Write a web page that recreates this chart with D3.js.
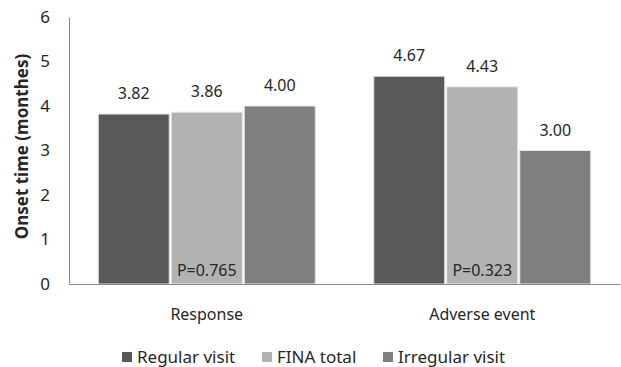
<!DOCTYPE html>
<html>
<head>
<meta charset="utf-8">
<script src="https://cdn.jsdelivr.net/npm/d3@7"></script>
<style>
  body { margin: 0; background: #fff; }
  text { font-family: "Noto Sans", "Open Sans", sans-serif; fill: #262626; }
</style>
</head>
<body>
<script>
// chart data
var categories = ["Response", "Adverse event"];
var seriesNames = ["Regular visit", "FINA total", "Irregular visit"];
var responseValues = [3.82, 3.86, 4.00];
var adverseValues = [4.67, 4.43, 3.00];
var pLabels = ["P=0.765", "P=0.323"];
var yTicks = [0, 1, 2, 3, 4, 5, 6];
var colors = ["#595959", "#b2b2b2", "#7f7f7f"];

var rows = [responseValues, adverseValues];

var W = 621, H = 367;
var margin = {top: 17, right: 1, bottom: 83, left: 69};
var w = W - margin.left - margin.right,
    h = H - margin.top - margin.bottom;

var svg = d3.select("body").append("svg")
    .attr("width", W)
    .attr("height", H);

var g = svg.append("g")
    .attr("transform", "translate(" + margin.left + "," + margin.top + ")");

var x0 = d3.scaleBand()
    .domain(categories)
    .range([0, w])
    .paddingInner(0.205)
    .paddingOuter(0.1025);

var x1 = d3.scaleBand()
    .domain(seriesNames)
    .range([0, x0.bandwidth()]);

var y = d3.scaleLinear()
    .domain([0, 6])
    .range([h, 0]);

// y axis (line + labels, no ticks)
var yAxis = d3.axisLeft(y).tickValues(yTicks).tickFormat(d3.format("d")).tickSize(0).tickPadding(19);
var yg = g.append("g").call(yAxis);
yg.select(".domain").attr("stroke", "#8c8c8c");
yg.selectAll("text")
  .style("font-size", "17px")
  .attr("fill", "#404040");

// bars
var groups = g.selectAll(".grp")
  .data(rows)
  .enter().append("g")
    .attr("transform", function(d, i) { return "translate(" + x0(categories[i]) + ",0)"; });

groups.selectAll("rect")
  .data(function(d) { return d; })
  .enter().append("rect")
    .attr("x", function(d, i) { return x1(seriesNames[i]) + 1; })
    .attr("width", x1.bandwidth() - 2)
    .attr("y", function(d) { return y(d); })
    .attr("height", function(d) { return h - y(d); })
    .attr("fill", function(d, i) { return colors[i]; })
    .attr("stroke", "#e6e6e6")
    .attr("stroke-width", 1);

groups.selectAll(".val")
  .data(function(d) { return d; })
  .enter().append("text")
    .attr("x", function(d, i) { return x1(seriesNames[i]) + x1.bandwidth() / 2; })
    .attr("y", function(d) { return y(d) - 15; })
    .attr("text-anchor", "middle")
    .style("font-size", "16px")
    .text(function(d) { return d.toFixed(2); });

// p-values inside the middle bar
groups.append("text")
    .attr("x", x1(seriesNames[1]) + x1.bandwidth() / 2)
    .attr("y", h - 8)
    .attr("text-anchor", "middle")
    .style("font-size", "16px")
    .text(function(d, i) { return pLabels[i]; });

// x axis
var xAxis = d3.axisBottom(x0).tickSize(0).tickPadding(25);
var xg = g.append("g")
  .attr("transform", "translate(0," + h + ")")
  .call(xAxis);
xg.select(".domain").attr("stroke", "#8c8c8c");
xg.selectAll("text")
  .style("font-size", "16px")
  .attr("fill", "#262626");

// y title
svg.append("text")
  .attr("transform", "translate(28," + (margin.top + h / 2 - 4) + ") rotate(-90)")
  .attr("text-anchor", "middle")
  .style("font-size", "17px")
  .style("font-weight", "bold")
  .text("Onset time (monthes)");

// legend
var legendX = [122, 262, 383];
var leg = svg.selectAll(".leg")
  .data(seriesNames)
  .enter().append("g")
    .attr("transform", function(d, i) { return "translate(" + legendX[i] + ",352)"; });

leg.append("rect")
  .attr("width", 10)
  .attr("height", 10)
  .attr("fill", function(d, i) { return colors[i]; });

leg.append("text")
  .attr("x", 15)
  .attr("y", 11)
  .style("font-size", "17px")
  .text(function(d) { return d; });
</script>
</body>
</html>
